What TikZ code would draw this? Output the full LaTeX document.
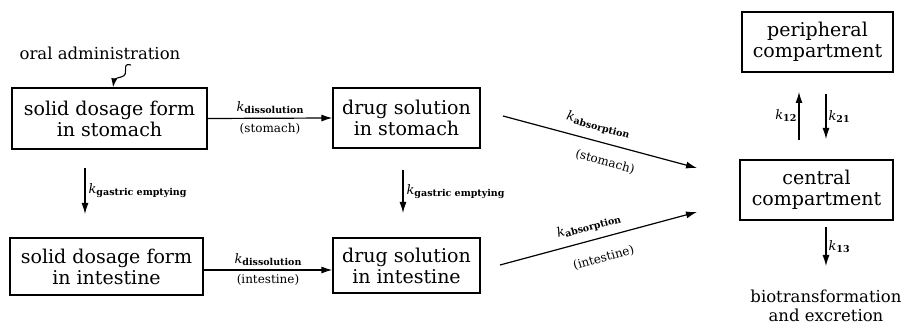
\documentclass[tikz,border=0pt]{standalone}
\usepackage{fontspec}
\setmainfont{DejaVu Serif}
\usetikzlibrary{arrows.meta}
\newcommand{\krate}[1]{{\fontsize{13}{14}\selectfont\textit{k}}\raisebox{-2pt}{\fontsize{9.5}{10}\selectfont\bfseries #1}}
\tikzset{
  box/.style={draw, line width=1.2pt, minimum width=#1, inner sep=0pt, align=center, font=\fontsize{19}{21}\selectfont},
  flow/.style={line width=1.2pt, -{Latex[length=11pt,width=7pt]}},
  lab/.style={font=\fontsize{12}{13}\selectfont, inner sep=1pt},
  big/.style={align=center, font=\fontsize{16.5}{18.5}\selectfont},
}
\begin{document}
\begin{tikzpicture}[x=1pt,y=-1pt]
\useasboundingbox (0,0) rectangle (906,336);
% boxes
\node[box=195pt, minimum height=61pt] (b1) at (109.5,118.5) {solid dosage form\\in stomach};
\node[box=147pt, minimum height=60pt] (b2) at (406.5,118) {drug solution\\in stomach};
\node[box=193pt, minimum height=57pt] (b3) at (106.5,266.5) {solid dosage form\\in intestine};
\node[box=147pt, minimum height=55pt] (b4) at (406.5,265.5) {drug solution\\in intestine};
\node[box=151pt, minimum height=60pt] (p) at (817.5,42) {peripheral\\compartment};
\node[box=153pt, minimum height=60pt] (c) at (816.5,190) {central\\compartment};
\node[big] (bio) at (826,306) {biotransformation\\and excretion};
\node[big] (oral) at (100,53) {oral administration};
% oral squiggle
\coordinate (o1) at (131,65);
\draw[line width=1.1pt, -{Latex[length=9pt,width=6pt]}] (o1) .. controls (120,62) and (131,75) .. (121,77) .. controls (116,78) and (114,80) .. (b1.north -| 113,0);
% dissolution
\draw[flow] (b1.east) -- node[lab, above=3pt] {\krate{dissolution}} node[lab, below=4pt] {(stomach)} (b2.west);
\draw[flow] (b3.east |- 0,270) -- node[lab, above=3pt] {\krate{dissolution}} node[lab, below=3pt] {(intestine)} (b4.west |- 0,270);
% gastric emptying
\coordinate (g1s) at (85,168); \coordinate (g1e) at (85,214);
\coordinate (g2s) at (403,170); \coordinate (g2e) at (403,213);
\draw[flow] (g1s) -- node[lab, right=2pt] {\krate{gastric emptying}} (g1e);
\draw[flow] (g2s) -- node[lab, right=2pt] {\krate{gastric emptying}} (g2e);
% absorption
\coordinate (a1s) at (503,116); \coordinate (a1e) at (697,168);
\coordinate (a2s) at (500,265); \coordinate (a2e) at (697,212);
\draw[flow] (a1s) -- node[lab, sloped, above=7pt, pos=0.47] {\krate{absorption}} node[lab, sloped, below=11pt, pos=0.55] {(stomach)} (a1e);
\draw[flow] (a2s) -- node[lab, sloped, above=6pt, pos=0.47] {\krate{absorption}} node[lab, sloped, below=13pt, pos=0.5] {(intestine)} (a2e);
% central/peripheral
\coordinate (u1) at (799,140); \coordinate (u2) at (799,92);
\coordinate (d1) at (826,94); \coordinate (d2) at (826,139);
\draw[flow] (u1) -- node[lab, left=1pt] {\krate{12}} (u2);
\draw[flow] (d1) -- node[lab, right=1pt] {\krate{21}} (d2);
\coordinate (e1) at (826,227); \coordinate (e2) at (826,266);
\draw[flow] (e1) -- node[lab, right=1pt] {\krate{13}} (e2);
\end{tikzpicture}
\end{document}
